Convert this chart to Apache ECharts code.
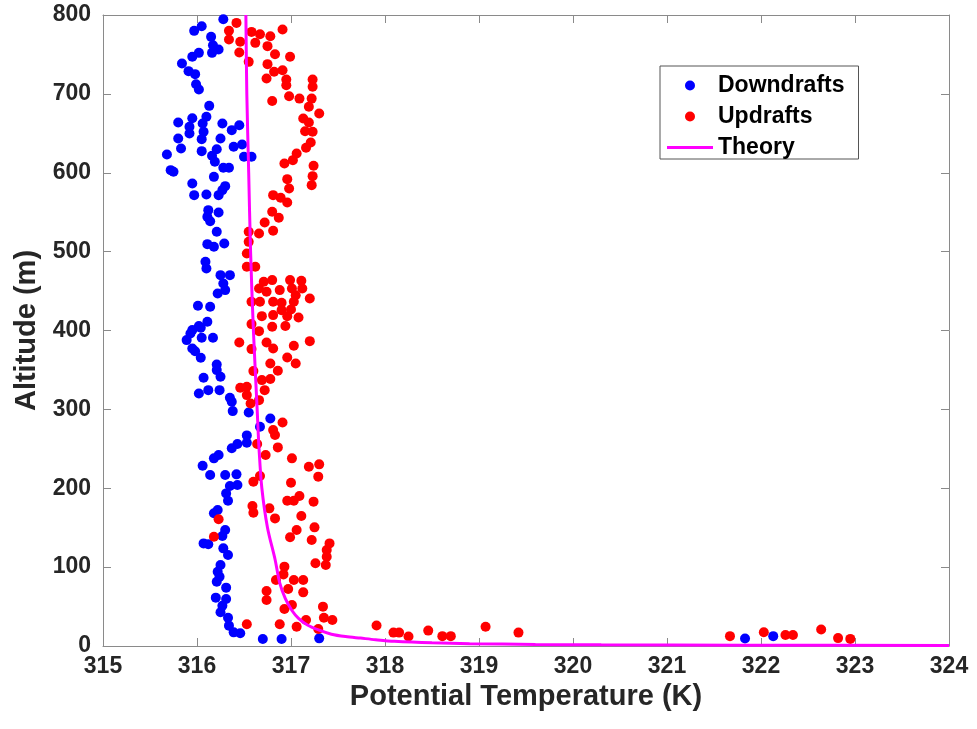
<!DOCTYPE html>
<html>
<head>
    <meta charset="UTF-8">
    <title>Potential Temperature vs Altitude</title>
    <script src="https://cdn.jsdelivr.net/npm/echarts@6/dist/echarts.min.js"></script>
    <style>
        html, body { margin: 0; padding: 0; background: #fff; }
        #main { width: 977px; height: 729px; }
    </style>
</head>
<body>
    <div id="main"></div>
    <script type="text/javascript">
        // 下沉气流 [位温 K, 高度 m]
        var downdrafts = [
            [316.28, 794.7], [316.05, 785.8], [315.97, 779.9], [316.15, 772.3], [316.17, 761.7],
            [316.23, 756.2], [316.16, 752.0], [316.02, 752.0], [315.95, 747.0], [315.84, 738.5],
            [315.91, 728.8], [315.98, 725.0], [315.99, 712.3], [316.02, 705.6], [316.13, 684.8],
            [315.95, 669.0], [316.10, 671.0], [316.06, 662.4], [315.80, 663.7], [315.92, 658.2],
            [315.92, 649.8], [316.07, 651.9], [316.27, 662.4], [316.37, 654.0], [316.45, 660.3],
            [316.25, 643.4], [316.05, 642.6], [315.80, 643.4], [315.83, 630.8], [315.68, 623.1],
            [316.05, 627.4], [316.21, 629.9], [316.16, 621.5], [316.19, 613.9], [316.39, 632.9],
            [316.48, 635.8], [316.50, 620.2], [316.58, 620.2], [316.28, 606.3], [316.34, 606.3],
            [315.72, 603.3], [315.75, 601.2], [316.18, 594.8], [315.95, 586.4], [316.30, 583.0],
            [316.27, 578.0], [315.97, 571.6], [316.10, 572.5], [316.23, 571.6], [316.12, 552.6],
            [316.23, 549.6], [316.11, 544.1], [316.14, 538.6], [316.21, 525.1], [316.11, 509.5],
            [316.18, 506.1], [316.29, 510.3], [316.09, 487.1], [316.10, 478.6], [316.25, 470.2],
            [316.35, 470.2], [316.28, 459.6], [316.30, 451.2], [316.22, 447.0], [316.01, 431.3],
            [316.14, 430.0], [316.11, 411.0], [316.02, 405.6], [315.95, 400.5], [316.04, 403.4],
            [315.93, 396.2], [315.89, 387.8], [316.05, 390.7], [316.17, 390.7], [315.95, 377.2],
            [315.98, 373.8], [316.04, 365.4], [316.21, 357.0], [316.21, 349.8], [316.25, 341.3],
            [316.07, 340.1], [316.02, 320.2], [316.12, 324.4], [316.24, 324.4], [316.35, 314.7],
            [316.37, 309.6], [316.38, 297.8], [316.55, 296.1], [316.78, 288.5], [316.67, 278.0],
            [316.53, 267.0], [316.53, 257.7], [316.43, 256.1], [316.37, 250.6], [316.23, 242.1],
            [316.18, 237.9], [316.06, 228.6], [316.14, 216.8], [316.30, 216.8], [316.42, 217.6],
            [316.43, 204.1], [316.35, 202.8], [316.31, 193.5], [316.33, 184.2], [316.22, 172.4],
            [316.18, 168.2], [316.30, 147.1], [316.27, 139.5], [316.07, 130.1], [316.12, 128.9],
            [316.28, 123.8], [316.33, 115.4], [316.25, 102.7], [316.22, 94.2], [316.24, 87.9],
            [316.21, 81.5], [316.31, 74.0], [316.20, 61.3], [316.31, 59.6], [316.27, 51.1],
            [316.25, 42.7], [316.33, 35.9], [316.34, 25.8], [316.39, 17.3], [316.46, 16.1],
            [316.70, 8.9], [316.90, 8.9], [317.30, 9.7], [321.83, 9.5], [322.13, 12.5]
        ];

        // 上升气流
        var updrafts = [
            [316.42, 790.0], [316.34, 780.0], [316.34, 769.0], [316.46, 766.0], [316.58, 778.6],
            [316.67, 775.7], [316.62, 764.7], [316.78, 773.1], [316.91, 781.6], [316.75, 760.5],
            [316.45, 752.4], [316.55, 740.6], [316.83, 750.3], [316.99, 747.0], [316.75, 737.7],
            [316.91, 730.0], [316.82, 728.0], [316.74, 719.5], [316.95, 718.2], [316.95, 711.0],
            [317.23, 718.2], [317.23, 709.0], [317.22, 694.0], [316.98, 697.0], [317.09, 694.0],
            [316.80, 691.0], [317.19, 683.6], [317.30, 675.1], [317.13, 668.8], [317.19, 663.7],
            [317.15, 652.7], [317.23, 651.9], [317.21, 638.4], [317.16, 631.6], [317.06, 624.4],
            [317.02, 616.0], [316.93, 611.7], [317.24, 608.8], [317.23, 595.7], [317.22, 584.3],
            [316.96, 591.9], [316.98, 580.0], [316.81, 571.6], [316.89, 568.2], [316.96, 562.3],
            [316.80, 550.5], [316.87, 542.9], [316.72, 537.0], [316.55, 525.1], [316.66, 523.0],
            [316.81, 526.4], [316.55, 512.4], [316.53, 497.6], [316.53, 480.8], [316.62, 480.8],
            [316.71, 461.7], [316.80, 463.9], [316.99, 463.9], [317.11, 463.0], [316.66, 453.3],
            [316.74, 449.1], [316.88, 451.2], [317.01, 453.3], [317.12, 453.3], [317.05, 444.8],
            [316.58, 436.4], [316.67, 436.4], [316.81, 436.4], [316.90, 435.1], [317.03, 436.4],
            [317.20, 440.6], [316.90, 425.8], [317.00, 426.7], [316.69, 418.2], [316.81, 419.5],
            [316.96, 418.2], [317.08, 416.5], [316.58, 408.1], [316.80, 404.7], [316.94, 405.6],
            [316.66, 399.2], [316.45, 384.8], [316.58, 376.4], [316.74, 384.8], [316.81, 377.2],
            [317.03, 380.6], [317.20, 386.5], [316.96, 365.8], [317.05, 358.2], [316.78, 358.2],
            [316.86, 348.9], [316.60, 348.5], [316.78, 338.4], [316.69, 337.1], [316.72, 324.4],
            [316.46, 327.4], [316.53, 328.6], [316.53, 318.1], [316.66, 311.7], [316.57, 307.5],
            [316.91, 283.4], [316.81, 273.7], [316.83, 267.5], [316.86, 251.8], [316.64, 256.0],
            [316.73, 242.1], [317.01, 237.9], [317.19, 227.3], [317.30, 230.3], [317.29, 214.7],
            [316.60, 208.3], [316.67, 215.5], [317.00, 207.0], [316.96, 184.2], [317.03, 184.2],
            [317.09, 190.1], [317.24, 183.0], [316.59, 177.5], [316.60, 169.0], [316.77, 174.5],
            [316.83, 161.8], [317.11, 164.8], [316.23, 160.6], [317.06, 147.1], [317.25, 150.4],
            [316.99, 137.8], [316.18, 138.6], [317.22, 134.4], [317.41, 130.1], [317.38, 121.7],
            [317.38, 113.2], [317.26, 104.8], [317.37, 102.7], [316.93, 100.6], [316.92, 90.8],
            [316.84, 83.7], [317.03, 83.7], [317.13, 83.7], [316.97, 72.3], [317.13, 68.0],
            [316.74, 69.7], [316.74, 58.3], [316.93, 46.9], [317.01, 52.0], [317.34, 49.9],
            [317.16, 33.0], [317.35, 35.9], [317.44, 33.0], [316.53, 27.5], [316.88, 27.5],
            [317.06, 24.5], [317.29, 21.6], [317.91, 26.0], [318.09, 17.0], [318.15, 17.0],
            [318.25, 12.0], [318.46, 19.5], [318.61, 12.5], [318.70, 12.5], [319.07, 24.5],
            [319.42, 17.0], [321.67, 12.5], [322.03, 17.5], [322.26, 14.0], [322.34, 14.0],
            [322.64, 21.0], [322.82, 10.0], [322.95, 9.0]
        ];

        // 理论曲线
        var theoryX = [316.52, 316.53, 316.55, 316.57, 316.60, 316.64, 316.66, 316.69, 316.75, 316.83,
            316.88, 316.94, 317.01, 317.08, 317.17, 317.30, 317.43, 317.58, 317.74, 317.90,
            318.1, 318.5, 318.9, 319.6, 320.3, 321.8, 324.0];
        var theoryY = [800, 700, 600, 500, 400, 300, 250, 200, 150, 110,
            80, 60, 45, 35, 27, 20, 15, 12, 10, 8,
            6, 4, 3, 2, 1.5, 1, 0.6];

        var theory = [];
        for (let i = 0; i < theoryX.length; i++) {
            theory.push([theoryX[i], theoryY[i]]);
        }

        var font = 'Liberation Sans, Arial, sans-serif';
        var axisGray = '#8a8a8a';
        var labelColor = '#262626';

        var myChart = echarts.init(document.getElementById('main'));

        var option = {
            animation: false,
            backgroundColor: '#fff',
            grid: {
                left: 103,
                right: 28,
                top: 15,
                bottom: 83
            },
            legend: {
                data: [
                    { name: 'Downdrafts', icon: 'circle' },
                    { name: 'Updrafts', icon: 'circle' },
                    // 只画线段，不要中间的圆点
                    { name: 'Theory', icon: 'path://M0,0 L46,0 L46,3 L0,3 Z' }
                ],
                orient: 'vertical',
                left: 660,
                top: 66,
                padding: [8, 14, 0, 7],
                itemWidth: 46,
                itemHeight: 10,
                itemGap: 8,
                itemTextGap: 5,
                selectedMode: false,
                backgroundColor: '#fff',
                borderColor: '#555',
                borderWidth: 1,
                textStyle: {
                    fontFamily: font,
                    fontWeight: 'bold',
                    fontSize: 23,
                    color: '#000'
                }
            },
            xAxis: [
                {
                    type: 'value',
                    min: 315,
                    max: 324,
                    interval: 1,
                    position: 'bottom',
                    name: 'Potential Temperature (K)',
                    nameLocation: 'middle',
                    nameGap: 27,
                    nameTextStyle: {
                        fontFamily: font,
                        fontWeight: 'bold',
                        fontSize: 29,
                        color: labelColor
                    },
                    axisLine: { onZero: false, lineStyle: { color: axisGray, width: 1 } },
                    axisTick: { inside: true, length: 8, lineStyle: { color: axisGray } },
                    axisLabel: {
                        margin: 9,
                        fontFamily: font,
                        fontWeight: 'bold',
                        fontSize: 23,
                        color: labelColor
                    },
                    splitLine: { show: false }
                },
                {
                    type: 'value',
                    min: 315,
                    max: 324,
                    interval: 1,
                    position: 'top',
                    axisLine: { onZero: false, lineStyle: { color: axisGray, width: 1 } },
                    axisTick: { inside: true, length: 8, lineStyle: { color: axisGray } },
                    axisLabel: { show: false },
                    splitLine: { show: false }
                }
            ],
            yAxis: [
                {
                    type: 'value',
                    min: 0,
                    max: 800,
                    interval: 100,
                    position: 'left',
                    name: 'Altitude (m)',
                    nameLocation: 'middle',
                    nameGap: 59,
                    nameTextStyle: {
                        fontFamily: font,
                        fontWeight: 'bold',
                        fontSize: 29,
                        color: labelColor
                    },
                    axisLine: { show: true, onZero: false, lineStyle: { color: axisGray, width: 1 } },
                    axisTick: { show: true, inside: true, length: 8, lineStyle: { color: axisGray } },
                    axisLabel: {
                        margin: 12,
                        fontFamily: font,
                        fontWeight: 'bold',
                        fontSize: 23,
                        color: labelColor
                    },
                    splitLine: { show: false }
                },
                {
                    type: 'value',
                    min: 0,
                    max: 800,
                    interval: 100,
                    position: 'right',
                    axisLine: { show: true, onZero: false, lineStyle: { color: axisGray, width: 1 } },
                    axisTick: { show: true, inside: true, length: 8, lineStyle: { color: axisGray } },
                    axisLabel: { show: false },
                    splitLine: { show: false }
                }
            ],
            series: [
                {
                    name: 'Downdrafts',
                    type: 'scatter',
                    xAxisIndex: 0,
                    yAxisIndex: 0,
                    symbol: 'circle',
                    symbolSize: 10,
                    itemStyle: { color: '#0000ff', opacity: 1 },
                    data: downdrafts
                },
                {
                    name: 'Updrafts',
                    type: 'scatter',
                    xAxisIndex: 0,
                    yAxisIndex: 0,
                    symbol: 'circle',
                    symbolSize: 10,
                    itemStyle: { color: '#ff0000', opacity: 1 },
                    data: updrafts
                },
                {
                    name: 'Theory',
                    type: 'line',
                    xAxisIndex: 0,
                    yAxisIndex: 0,
                    symbol: 'none',
                    smooth: 0.3,
                    lineStyle: { color: '#ff00ff', width: 3 },
                    itemStyle: { color: '#ff00ff' },
                    data: theory
                }
            ]
        };

        myChart.setOption(option);
    </script>
</body>
</html>
